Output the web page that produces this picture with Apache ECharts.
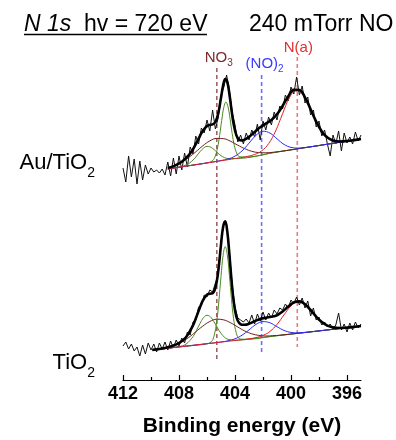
<!DOCTYPE html>
<html>
<head>
<meta charset="utf-8">
<script src="https://cdn.jsdelivr.net/npm/echarts@6/dist/echarts.min.js"></script>
<style>
  html, body { margin: 0; padding: 0; background: #fff; }
  #chart { width: 396px; height: 440px; }
</style>
</head>
<body>
<div id="chart"></div>
<script>
// binding energy grid of the measured spectra (eV)
const energy = [412.0, 411.8, 411.6, 411.4, 411.2, 411.0, 410.8, 410.6, 410.4, 410.2,
  410.0, 409.8, 409.6, 409.4, 409.2, 409.0, 408.8, 408.6, 408.4, 408.2,
  408.0, 407.8, 407.6, 407.4, 407.2, 407.0, 406.8, 406.6, 406.4, 406.2,
  406.0, 405.8, 405.6, 405.4, 405.2, 405.0, 404.8, 404.6, 404.4, 404.2,
  404.0, 403.8, 403.6, 403.4, 403.2, 403.0, 402.8, 402.6, 402.4, 402.2,
  402.0, 401.8, 401.6, 401.4, 401.2, 401.0, 400.8, 400.6, 400.4, 400.2,
  400.0, 399.8, 399.6, 399.4, 399.2, 399.0, 398.8, 398.6, 398.4, 398.2,
  398.0, 397.8, 397.6, 397.4, 397.2, 397.0, 396.8, 396.6, 396.4, 396.2,
  396.0, 395.8, 395.6, 395.4, 395.2, 395.0];

// measured intensity (arb. units, spectra offset vertically)
const rawAu = [212, 198, 224, 203, 221, 196, 219, 200, 215, 206,
  212, 208, 210, 207, 211, 205, 218, 204, 222, 206,
  224, 210, 227, 213, 233, 226, 244, 236, 252, 247,
  260, 249, 270, 251, 262, 285, 293, 305, 290, 268,
  255, 238, 245, 236, 247, 240, 250, 243, 256, 240,
  259, 250, 263, 255, 268, 260, 274, 271, 285, 279,
  293, 286, 303, 285, 294, 277, 283, 265, 270, 253,
  259, 244, 250, 236, 224, 245, 236, 249, 229, 247,
  237, 243, 236, 248, 239, 245];
const rawTi = [34, 38, 31, 36, 29, 33, 24, 35, 26, 37,
  30, 36, 28, 37, 31, 38, 30, 39, 32, 40,
  34, 42, 37, 48, 45, 58, 60, 73, 74, 85,
  83, 90, 88, 97, 105, 138, 158, 156, 128, 95,
  73, 62, 60, 58, 61, 57, 65, 56, 66, 59,
  68, 60, 67, 62, 70, 66, 72, 70, 76, 72,
  80, 76, 83, 75, 82, 72, 79, 64, 72, 60,
  63, 55, 58, 53, 56, 51, 55, 67, 50, 56,
  48, 57, 50, 58, 52, 56];

// fit envelopes [eV, intensity]
const fitAu = [[408.8, 212.0], [408.3, 214.4], [407.8, 218.3], [407.3, 224.8], [407.0, 230.9],
  [406.8, 235.9], [406.5, 244.2], [406.3, 249.0], [406.0, 253.9], [405.8, 255.1],
  [405.6, 255.6], [405.4, 258.0], [405.2, 266.5], [405.0, 282.2], [404.85, 294.4],
  [404.7, 300.9], [404.55, 297.8], [404.4, 286.0], [404.25, 270.3], [404.1, 256.2],
  [403.9, 244.6], [403.7, 240.2], [403.5, 239.5], [403.3, 240.4], [403.0, 243.1],
  [402.6, 247.9], [402.2, 252.7], [401.8, 256.3], [401.4, 260.0], [401.0, 265.7],
  [400.6, 274.1], [400.2, 283.6], [399.8, 290.1], [399.4, 289.9], [399.0, 282.6],
  [398.6, 270.7], [398.2, 258.4], [397.8, 248.6], [397.4, 242.4], [397.0, 239.5],
  [396.5, 238.5], [396.0, 239.0], [395.5, 239.9], [395.0, 241.0]];
const fitTi = [[409.9, 30.1], [409.0, 32.1], [408.5, 34.0], [408.0, 37.0], [407.5, 42.7],
  [407.0, 54.6], [406.8, 61.5], [406.5, 72.8], [406.3, 79.4], [406.0, 85.4],
  [405.8, 86.3], [405.6, 86.9], [405.45, 90.0], [405.3, 98.6], [405.15, 114.6],
  [405.0, 135.4], [404.85, 153.0], [404.7, 158.8], [404.55, 148.3], [404.4, 125.6],
  [404.25, 100.0], [404.1, 79.2], [403.9, 63.0], [403.7, 57.0], [403.5, 55.3],
  [403.3, 55.3], [403.0, 56.3], [402.6, 58.8], [402.2, 61.0], [401.8, 62.3],
  [401.4, 63.2], [401.0, 64.8], [400.6, 68.5], [400.2, 73.4], [399.8, 77.6],
  [399.4, 78.6], [399.0, 75.7], [398.6, 70.0], [398.2, 63.4], [397.8, 57.9],
  [397.4, 54.4], [397.0, 52.6], [396.5, 52.0], [396.0, 52.4], [395.5, 53.1], [395.0, 54.0]];

// fit components, Au/TiO2
const auGreenSmall = [[408.8, 211.0], [407.5, 215.0], [407.0, 219.9], [406.75, 223.9], [406.5, 228.3],
  [406.25, 231.9], [406.0, 233.6], [405.75, 232.9], [405.5, 230.5], [405.25, 227.2], [405.0, 224.3],
  [404.75, 222.4], [404.5, 221.5], [404.0, 221.5], [401.0, 228.0], [398.0, 234.5], [395.0, 241.0]];
const auBrown = [[408.8, 212.0], [408.3, 214.4], [407.8, 217.9], [407.3, 222.6], [406.8, 228.2],
  [406.3, 234.2], [405.8, 239.1], [405.3, 241.6], [404.8, 241.3], [404.3, 238.6], [403.8, 234.8],
  [403.3, 231.3], [402.8, 228.7], [402.3, 227.4], [401.8, 227.2], [401.3, 227.7], [400.8, 228.5],
  [399.0, 232.3], [397.0, 236.7], [395.0, 241.0]];
const auGreenMain = [[408.8, 211.0], [407.0, 214.9], [406.0, 217.1], [405.65, 218.9], [405.45, 222.5],
  [405.25, 232.0], [405.1, 244.4], [404.95, 259.6], [404.8, 272.6], [404.65, 278.0], [404.5, 273.2],
  [404.35, 260.9], [404.2, 246.3], [404.05, 234.6], [403.85, 225.9], [403.65, 223.2], [403.3, 223.0],
  [401.0, 228.0], [398.0, 234.5], [395.0, 241.0]];
const auBlue = [[408.8, 211.0], [407.0, 214.9], [405.5, 218.2], [405.0, 219.5], [404.5, 221.0],
  [404.0, 223.9], [403.5, 229.1], [403.0, 236.8], [402.5, 244.7], [402.0, 248.8], [401.5, 246.9],
  [401.0, 241.2], [400.5, 235.6], [400.0, 232.6], [399.5, 231.9], [399.0, 232.5], [398.5, 233.4],
  [397.0, 236.7], [395.0, 241.0]];
const auRed = [[408.8, 211.0], [406.5, 216.0], [404.5, 220.3], [403.6, 222.3], [403.1, 223.6],
  [402.6, 225.5], [402.1, 229.1], [401.6, 236.3], [401.1, 249.0], [400.6, 266.3], [400.1, 282.6],
  [399.6, 290.0], [399.1, 284.8], [398.6, 270.7], [398.1, 255.5], [397.6, 245.0], [397.1, 240.0],
  [396.6, 238.6], [396.1, 238.8], [395.0, 241.0]];

// fit components, TiO2
const tiGreenSmall = [[409.9, 30.0], [409.0, 31.4], [408.0, 33.4], [407.5, 35.9], [407.0, 43.4],
  [406.75, 49.7], [406.5, 56.6], [406.25, 62.3], [406.0, 64.7], [405.75, 63.1], [405.5, 58.2],
  [405.25, 52.1], [405.0, 46.6], [404.75, 42.8], [404.5, 40.7], [404.0, 39.8], [402.0, 42.7],
  [399.0, 47.5], [395.0, 54.0]];
const tiBrown = [[409.9, 30.1], [409.3, 31.4], [408.8, 32.8], [408.3, 35.0], [407.8, 38.2],
  [407.3, 42.6], [406.8, 48.2], [406.3, 53.9], [405.8, 58.5], [405.3, 60.8], [404.8, 60.1],
  [404.3, 57.1], [403.8, 53.0], [403.3, 49.0], [402.8, 46.2], [402.3, 44.6], [401.8, 44.0],
  [401.3, 44.3], [400.8, 44.8], [398.0, 49.1], [395.0, 54.0]];
const tiGreenMain = [[409.9, 30.0], [408.0, 33.1], [406.1, 36.0], [405.7, 38.2], [405.5, 43.9],
  [405.3, 59.2], [405.15, 79.0], [405.0, 103.7], [404.85, 124.7], [404.7, 133.4], [404.55, 125.2],
  [404.4, 104.6], [404.25, 80.6], [404.1, 61.2], [403.9, 46.6], [403.7, 41.6], [403.3, 40.7],
  [401.0, 44.3], [398.0, 49.1], [395.0, 54.0]];
const tiBlue = [[409.9, 30.0], [407.5, 33.9], [405.5, 37.1], [405.0, 38.0], [404.5, 39.2],
  [404.0, 41.2], [403.5, 44.8], [403.0, 50.1], [402.5, 55.6], [402.0, 58.4], [401.5, 57.2],
  [401.0, 53.3], [400.5, 49.6], [400.0, 47.6], [399.5, 47.2], [399.0, 47.6], [398.5, 48.3],
  [397.0, 50.7], [395.0, 54.0]];
const tiRed = [[409.9, 30.0], [406.5, 35.5], [404.5, 38.7], [403.5, 40.3], [403.0, 41.2],
  [402.5, 42.4], [402.0, 44.6], [401.5, 48.6], [401.0, 55.6], [400.5, 65.1], [400.0, 74.0],
  [399.5, 78.2], [399.0, 75.6], [398.5, 68.3], [398.0, 60.4], [397.5, 55.0], [397.0, 52.6],
  [396.5, 52.0], [396.0, 52.4], [395.0, 54.0]];

// peak assignments (eV)
const peakNames = ["NO3", "(NO)2", "N(a)"];
const peakEnergies = [405.3, 402.1, 399.55];

const majorTicks = [412, 408, 404, 400, 396];
const minorTicks = [410, 406, 402, 398];

const FONT = "'Liberation Sans', Arial, sans-serif";
const chart = echarts.init(document.getElementById("chart"));

function curve(data, color, width, smooth) {
  return {
    type: "line",
    data: data,
    symbol: "none",
    smooth: smooth,
    silent: true,
    lineStyle: { color: color, width: width },
  };
}

const rawPairs = (vals) => energy.map((e, i) => [e, vals[i]]);

// marker lines: [top, bottom] in plot units, colour, label distance
const markerStyle = [
  { top: 312, bottom: 21, line: "#a06262", text: "#7a2a2a", dist: 0, dx: 2, sub: "3", main: "NO" },
  { top: 305, bottom: 25, line: "#6e6eff", text: "#3a3aff", dist: 1, dx: 3, sub: "2", main: "(NO)" },
  { top: 323, bottom: 33, line: "#e77c7c", text: "#e0302f", dist: 2, dx: 1, sub: "", main: "N(a)" },
];

const markerSeries = peakEnergies.map((e, i) => {
  const m = markerStyle[i];
  const fmt = m.sub ? "{m|" + m.main + "}{s|" + m.sub + "}" : "{m|" + m.main + "}";
  return {
    type: "line",
    name: peakNames[i],
    symbol: "circle",
    symbolSize: 0,
    showSymbol: true,
    silent: true,
    z: 1,
    lineStyle: { color: m.line, width: 1.6, type: [4, 3] },
    data: [
      {
        value: [e, m.top],
        label: {
          show: true,
          position: "top",
          distance: m.dist,
          offset: [m.dx, 0],
          formatter: fmt,
          rich: {
            m: { fontSize: 15, color: m.text, fontFamily: FONT },
            s: { fontSize: 10, color: m.text, fontFamily: FONT, padding: [11, 0, 0, 0] },
          },
        },
      },
      { value: [e, m.bottom] },
    ],
  };
});

const sampleLabel = (main, top) => ({
  type: "text",
  right: 301,
  top: top,
  style: {
    text: "{m|" + main + "}{s|2}",
    rich: {
      m: { fontSize: 22, fontFamily: FONT, fill: "#000" },
      s: { fontSize: 14, fontFamily: FONT, fill: "#000", padding: [20, 0, 0, 0] },
    },
  },
});

const option = {
  animation: false,
  grid: { left: 123, right: 35, top: 40, bottom: 60, containLabel: false, outerBoundsMode: "none" },
  xAxis: [
    {
      type: "value",
      min: 395,
      max: 412,
      inverse: true,
      axisLine: { lineStyle: { color: "#000", width: 1.2 } },
      axisTick: { inside: true, length: 5, customValues: majorTicks, lineStyle: { color: "#000", width: 1.2 } },
      axisLabel: { customValues: majorTicks, fontSize: 18, fontWeight: "bold", color: "#000", margin: 5, fontFamily: FONT },
      splitLine: { show: false },
      name: "Binding energy (eV)",
      nameLocation: "middle",
      nameGap: 36,
      nameTextStyle: { fontSize: 21, fontWeight: "bold", color: "#000", fontFamily: FONT },
    },
    {
      type: "value",
      min: 395,
      max: 412,
      inverse: true,
      position: "bottom",
      axisLine: { show: false },
      axisTick: { inside: true, length: 3, customValues: minorTicks, lineStyle: { color: "#000", width: 1.2 } },
      axisLabel: { show: false },
      splitLine: { show: false },
    },
  ],
  yAxis: { type: "value", min: 0, max: 340, show: false },
  graphic: [
    {
      type: "text",
      left: 24,
      top: 13,
      style: {
        text: "{i|N 1s}{r|  hv = 720 eV}",
        rich: {
          i: { fontSize: 23, fontStyle: "italic", fontFamily: FONT, fill: "#000" },
          r: { fontSize: 23, fontFamily: FONT, fill: "#000" },
        },
      },
    },
    { type: "line", shape: { x1: 24, y1: 34.5, x2: 207, y2: 34.5 }, style: { stroke: "#000", lineWidth: 1.5 } },
    {
      type: "text",
      left: 249,
      top: 13,
      style: { text: "240 mTorr NO", font: "23px " + FONT, fill: "#000" },
    },
    sampleLabel("Au/TiO", 152),
    sampleLabel("TiO", 352),
  ],
  series: [
    ...markerSeries,
    curve(rawPairs(rawAu), "#111", 1, false),
    curve(rawPairs(rawTi), "#111", 1, false),
    curve(auGreenSmall, "#4a8a22", 1, 0.4),
    curve(auGreenMain, "#4a8a22", 1, 0.4),
    curve(auBrown, "#6e1c1c", 1, 0.4),
    curve(auBlue, "#2a2aff", 1, 0.4),
    curve(auRed, "#e02020", 1, 0.4),
    curve(tiGreenSmall, "#4a8a22", 1, 0.4),
    curve(tiGreenMain, "#4a8a22", 1, 0.4),
    curve(tiBrown, "#6e1c1c", 1, 0.4),
    curve(tiBlue, "#2a2aff", 1, 0.4),
    curve(tiRed, "#e02020", 1, 0.4),
    curve(fitAu, "#000", 2.6, 0.4),
    curve(fitTi, "#000", 2.6, 0.4),
  ],
};
chart.setOption(option);
</script>
</body>
</html>
